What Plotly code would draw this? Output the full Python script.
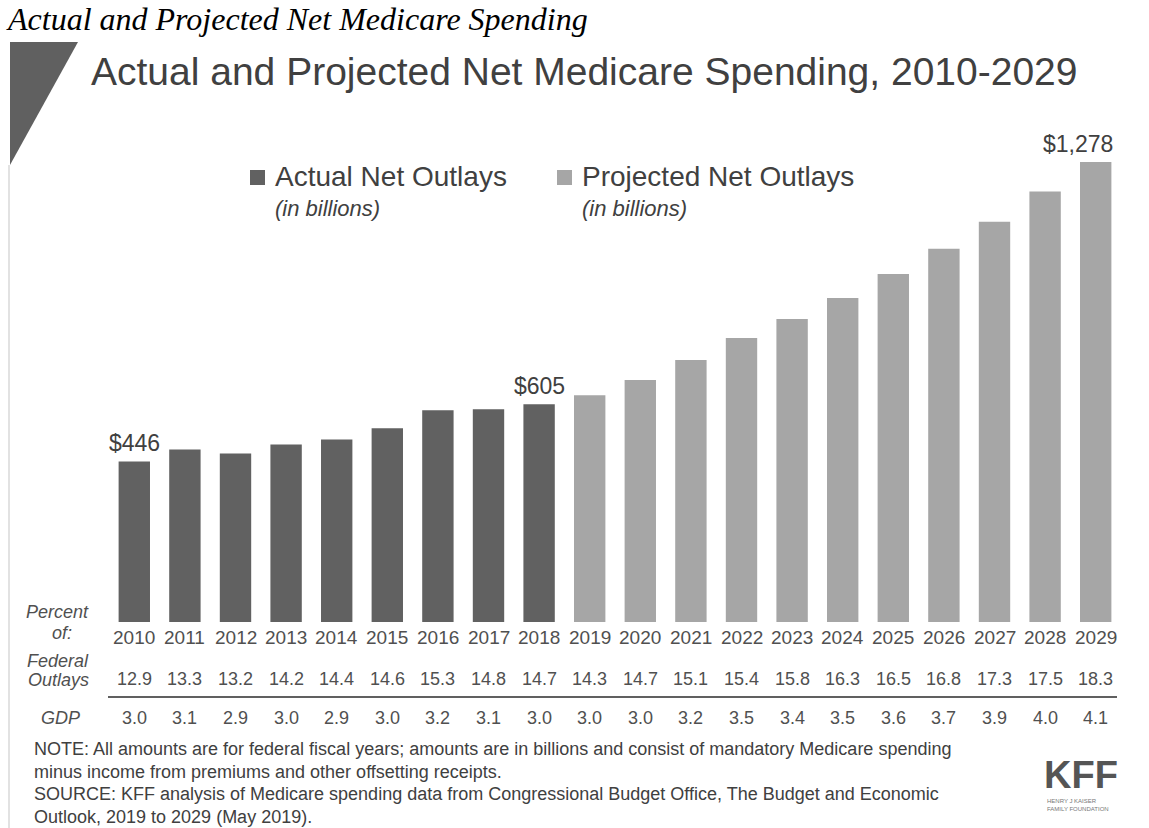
import plotly.graph_objects as go

years = [str(y) for y in range(2010, 2030)]
actual_years = years[:9]
projected_years = years[9:]
actual_vals = [446, 479, 468, 493, 507, 538, 588, 591, 605]
projected_vals = [630, 672, 728, 789, 842, 900, 967, 1037, 1112, 1196, 1278]
federal_outlays = ["12.9", "13.3", "13.2", "14.2", "14.4", "14.6", "15.3", "14.8", "14.7", "14.3",
                   "14.7", "15.1", "15.4", "15.8", "16.3", "16.5", "16.8", "17.3", "17.5", "18.3"]
gdp = ["3.0", "3.1", "2.9", "3.0", "2.9", "3.0", "3.2", "3.1", "3.0", "3.0",
       "3.0", "3.2", "3.5", "3.4", "3.5", "3.6", "3.7", "3.9", "4.0", "4.1"]
value_labels = {"2010": "$446", "2018": "$605", "2029": "$1,278"}

W, H = 1149, 828
ML, MR, MT, MB = 109, 28, 140, 206
PW = W - ML - MR
PH = H - MT - MB
YMAX = (H - MB - MT) / 0.36

def py(p):  # pixel y -> paper
    return (H - MB - p) / PH

def px(p):  # pixel x -> paper
    return (p - ML) / PW

DARK = "#616161"
LIGHT = "#a6a6a6"
TXT = "#404040"
SANS = "Liberation Sans, Arial, sans-serif"

fig = go.Figure()
fig.add_trace(go.Bar(x=actual_years, y=actual_vals, marker_color=DARK, name="Actual Net Outlays",
                     marker_line_width=0))
fig.add_trace(go.Bar(x=projected_years, y=projected_vals, marker_color=LIGHT, name="Projected Net Outlays",
                     marker_line_width=0))

ann = []
# top italic title
ann.append(dict(text="Actual and Projected Net Medicare Spending", x=px(4), y=py(19), xref="paper", yref="paper",
                xanchor="left", yanchor="middle", showarrow=False,
                font=dict(family="Liberation Serif, Times New Roman, serif", size=32, color="#000000", style="italic")))
# slide title
ann.append(dict(text="Actual and Projected Net Medicare Spending, 2010-2029", x=px(89), y=py(71), xref="paper", yref="paper",
                xanchor="left", yanchor="middle", showarrow=False,
                font=dict(family=SANS, size=39, color=TXT)))
# legend
for sx, label in [(250, "Actual Net Outlays"), (557, "Projected Net Outlays")]:
    ann.append(dict(text=label, x=px(sx + 23), y=py(177), xref="paper", yref="paper",
                    xanchor="left", yanchor="middle", showarrow=False,
                    font=dict(family=SANS, size=28, color=TXT)))
    ann.append(dict(text="<i>(in billions)</i>", x=px(sx + 23), y=py(208), xref="paper", yref="paper",
                    xanchor="left", yanchor="middle", showarrow=False,
                    font=dict(family=SANS, size=22, color=TXT)))
# value labels
all_vals = dict(zip(years, actual_vals + projected_vals))
for yr, lab in value_labels.items():
    ann.append(dict(text=lab, x=years.index(yr), y=all_vals[yr], xref="x", yref="y", yanchor="bottom",
                    showarrow=False, yshift=3, xshift=(-18 if yr == "2029" else 0),
                    font=dict(family=SANS, size=23, color=TXT)))
# table rows
for i, yr in enumerate(years):
    ann.append(dict(text=yr, x=i, y=py(637), xref="x", yref="paper", showarrow=False, yanchor="middle",
                    font=dict(family=SANS, size=19, color="#505050")))
    ann.append(dict(text=federal_outlays[i], x=i, y=py(679), xref="x", yref="paper", showarrow=False,
                    yanchor="middle", font=dict(family=SANS, size=18, color="#505050")))
    ann.append(dict(text=gdp[i], x=i, y=py(718), xref="x", yref="paper", showarrow=False,
                    yanchor="middle", font=dict(family=SANS, size=18, color="#505050")))
# row labels
for txt, yy, rx in [("Percent", 612, 91), ("of:", 633, 74), ("Federal", 661, 91), ("Outlays", 680, 91), ("GDP", 718, 82)]:
    ann.append(dict(text="<i>%s</i>" % txt, x=px(rx), y=py(yy), xref="paper", yref="paper",
                    xanchor="right", yanchor="middle", showarrow=False,
                    font=dict(family=SANS, size=18, color="#505050")))
# notes
notes = [
    "NOTE: All amounts are for federal fiscal years; amounts are in billions and consist of mandatory Medicare spending",
    "minus income from premiums and other offsetting receipts.",
    "SOURCE: KFF analysis of Medicare spending data from Congressional Budget Office, The Budget and Economic",
    "Outlook, 2019 to 2029 (May 2019).",
]
for k, line in enumerate(notes):
    ann.append(dict(text=line, x=px(32), y=py(749 + k * 22.5), xref="paper", yref="paper",
                    xanchor="left", yanchor="middle", showarrow=False,
                    font=dict(family=SANS, size=18, color=TXT)))
# KFF logo
ann.append(dict(text="<b>KFF</b>", x=px(1081), y=py(775), xref="paper", yref="paper",
                xanchor="center", yanchor="middle", showarrow=False,
                font=dict(family="Liberation Sans Narrow, Arial Narrow, Liberation Sans, sans-serif", size=38, color="#555555")))
ann.append(dict(text="HENRY J KAISER<br>FAMILY FOUNDATION", x=px(1045), y=py(805), xref="paper", yref="paper",
                xanchor="left", yanchor="middle", showarrow=False, align="left",
                font=dict(family=SANS, size=6, color="#777777")))

shapes = [
    # corner triangle
    dict(type="path", xref="paper", yref="paper",
         path="M %f,%f L %f,%f L %f,%f Z" % (px(10), py(42), px(78), py(42), px(10), py(165)),
         fillcolor="#606060", line=dict(width=0)),
    # left slide border
    dict(type="line", xref="paper", yref="paper", x0=px(9), x1=px(9), y0=py(165), y1=py(828),
         line=dict(color="#d9d9d9", width=1.5)),
    # rule under federal outlays row
    dict(type="line", xref="paper", yref="paper", x0=px(108), x1=px(1117), y0=py(697), y1=py(697),
         line=dict(color="#606060", width=2)),
    # legend squares
    dict(type="rect", xref="paper", yref="paper", x0=px(250), x1=px(265), y0=py(170), y1=py(185),
         fillcolor=DARK, line=dict(width=0)),
    dict(type="rect", xref="paper", yref="paper", x0=px(557), x1=px(572), y0=py(170), y1=py(185),
         fillcolor=LIGHT, line=dict(width=0)),
]

fig.update_layout(
    width=W, height=H,
    margin=dict(l=ML, r=MR, t=MT, b=MB, autoexpand=False),
    paper_bgcolor="white", plot_bgcolor="white",
    showlegend=False, bargap=0.38,
    xaxis=dict(type="category", categoryorder="array", categoryarray=years, showticklabels=False,
               showgrid=False, zeroline=False, showline=False, range=[-0.5, 19.5]),
    yaxis=dict(range=[0, YMAX], visible=False, showgrid=False, zeroline=False),
    annotations=ann, shapes=shapes,
)

fig.write_html("out.html")
